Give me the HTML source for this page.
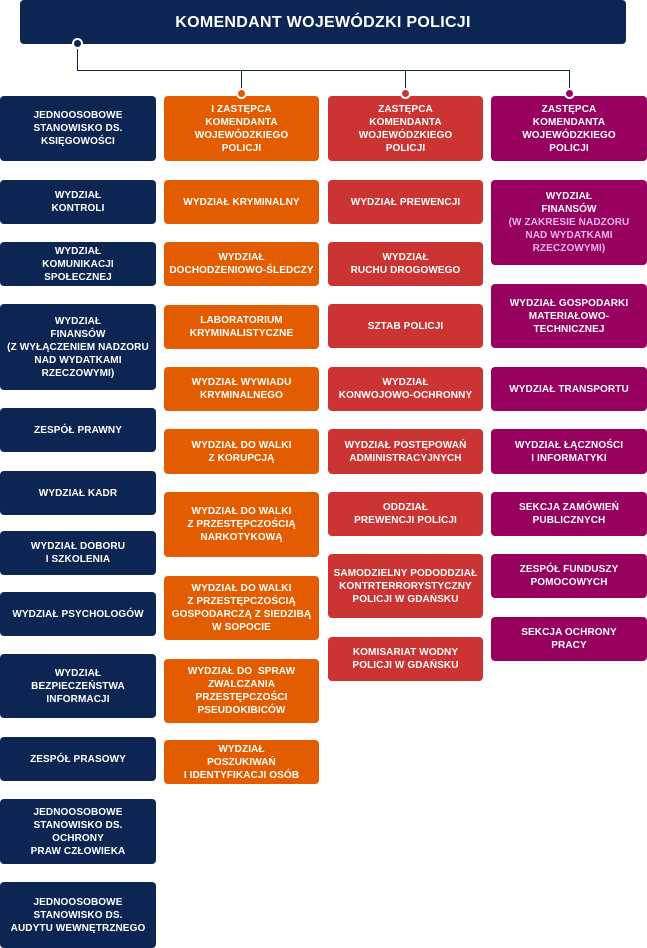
<!DOCTYPE html>
<html><head><meta charset="utf-8"><style>
body{margin:0;width:647px;height:948px;background:#fff;position:relative;overflow:hidden;font-family:"Liberation Sans","DejaVu Sans",sans-serif}
.b{position:absolute;border-radius:4px;color:#fff;font-weight:bold;font-size:10px;line-height:13px;text-align:center;display:flex;align-items:center;justify-content:center;box-sizing:border-box;padding:0 4px;letter-spacing:0.1px}
.n{background:#0d2553}.o{background:#e35d00}.r{background:#cc3333}.p{background:#98005f}
.l{color:#e7b6f0}
.ln{position:absolute;background:#0d2553}
.d{position:absolute;width:11px;height:11px;border-radius:50%;box-sizing:border-box;border:2px solid #fff}
</style></head><body>
<div class="b n" style="left:20px;top:0;width:606px;height:44px;font-size:16px;letter-spacing:0.3px">KOMENDANT WOJEWÓDZKI POLICJI</div>
<div class="ln" style="left:77px;top:44px;width:1px;height:26px"></div>
<div class="ln" style="left:77px;top:70px;width:493px;height:1px"></div>
<div class="ln" style="left:241px;top:70px;width:1px;height:24px"></div>
<div class="ln" style="left:405px;top:70px;width:1px;height:24px"></div>
<div class="ln" style="left:569px;top:70px;width:1px;height:24px"></div>
<div class="d" style="left:72px;top:38px;background:#0d2553"></div>

<div class="b n" style="left:0;top:96px;width:156px;height:65px">JEDNOOSOBOWE<br>STANOWISKO DS.<br>KSIĘGOWOŚCI</div>
<div class="b n" style="left:0;top:180px;width:156px;height:44px">WYDZIAŁ<br>KONTROLI</div>
<div class="b n" style="left:0;top:242px;width:156px;height:44px">WYDZIAŁ<br>KOMUNIKACJI<br>SPOŁECZNEJ</div>
<div class="b n" style="left:0;top:304px;width:156px;height:86px">WYDZIAŁ<br>FINANSÓW<br>(Z WYŁĄCZENIEM NADZORU<br>NAD WYDATKAMI<br>RZECZOWYMI)</div>
<div class="b n" style="left:0;top:408px;width:156px;height:44px">ZESPÓŁ PRAWNY</div>
<div class="b n" style="left:0;top:471px;width:156px;height:44px">WYDZIAŁ KADR</div>
<div class="b n" style="left:0;top:531px;width:156px;height:44px">WYDZIAŁ DOBORU<br>I SZKOLENIA</div>
<div class="b n" style="left:0;top:592px;width:156px;height:44px">WYDZIAŁ PSYCHOLOGÓW</div>
<div class="b n" style="left:0;top:654px;width:156px;height:64px">WYDZIAŁ<br>BEZPIECZEŃSTWA<br>INFORMACJI</div>
<div class="b n" style="left:0;top:737px;width:156px;height:44px">ZESPÓŁ PRASOWY</div>
<div class="b n" style="left:0;top:799px;width:156px;height:65px">JEDNOOSOBOWE<br>STANOWISKO DS.<br>OCHRONY<br>PRAW CZŁOWIEKA</div>
<div class="b n" style="left:0;top:882px;width:156px;height:66px">JEDNOOSOBOWE<br>STANOWISKO DS.<br>AUDYTU WEWNĘTRZNEGO</div>

<div class="b o" style="left:164px;top:96px;width:155px;height:65px">I ZASTĘPCA<br>KOMENDANTA<br>WOJEWÓDZKIEGO<br>POLICJI</div>
<div class="b o" style="left:164px;top:180px;width:155px;height:44px">WYDZIAŁ KRYMINALNY</div>
<div class="b o" style="left:164px;top:242px;width:155px;height:44px">WYDZIAŁ<br>DOCHODZENIOWO-ŚLEDCZY</div>
<div class="b o" style="left:164px;top:305px;width:155px;height:44px">LABORATORIUM<br>KRYMINALISTYCZNE</div>
<div class="b o" style="left:164px;top:367px;width:155px;height:44px">WYDZIAŁ WYWIADU<br>KRYMINALNEGO</div>
<div class="b o" style="left:164px;top:429px;width:155px;height:45px">WYDZIAŁ DO WALKI<br>Z KORUPCJĄ</div>
<div class="b o" style="left:164px;top:492px;width:155px;height:65px">WYDZIAŁ DO WALKI<br>Z PRZESTĘPCZOŚCIĄ<br>NARKOTYKOWĄ</div>
<div class="b o" style="left:164px;top:576px;width:155px;height:64px">WYDZIAŁ DO WALKI<br>Z PRZESTĘPCZOŚCIĄ<br>GOSPODARCZĄ Z SIEDZIBĄ<br>W SOPOCIE</div>
<div class="b o" style="left:164px;top:659px;width:155px;height:64px">WYDZIAŁ DO &nbsp;SPRAW<br>ZWALCZANIA<br>PRZESTĘPCZOŚCI<br>PSEUDOKIBICÓW</div>
<div class="b o" style="left:164px;top:740px;width:155px;height:44px">WYDZIAŁ<br>POSZUKIWAŃ<br>I IDENTYFIKACJI OSÓB</div>

<div class="b r" style="left:328px;top:96px;width:155px;height:65px">ZASTĘPCA<br>KOMENDANTA<br>WOJEWÓDZKIEGO<br>POLICJI</div>
<div class="b r" style="left:328px;top:180px;width:155px;height:44px">WYDZIAŁ PREWENCJI</div>
<div class="b r" style="left:328px;top:242px;width:155px;height:44px">WYDZIAŁ<br>RUCHU DROGOWEGO</div>
<div class="b r" style="left:328px;top:304px;width:155px;height:44px">SZTAB POLICJI</div>
<div class="b r" style="left:328px;top:367px;width:155px;height:44px">WYDZIAŁ<br>KONWOJOWO-OCHRONNY</div>
<div class="b r" style="left:328px;top:429px;width:155px;height:45px">WYDZIAŁ POSTĘPOWAŃ<br>ADMINISTRACYJNYCH</div>
<div class="b r" style="left:328px;top:492px;width:155px;height:44px">ODDZIAŁ<br>PREWENCJI POLICJI</div>
<div class="b r" style="left:328px;top:554px;width:155px;height:64px">SAMODZIELNY PODODDZIAŁ<br>KONTRTERRORYSTYCZNY<br>POLICJI W GDAŃSKU</div>
<div class="b r" style="left:328px;top:637px;width:155px;height:44px">KOMISARIAT WODNY<br>POLICJI W GDAŃSKU</div>

<div class="b p" style="left:491px;top:96px;width:156px;height:65px">ZASTĘPCA<br>KOMENDANTA<br>WOJEWÓDZKIEGO<br>POLICJI</div>
<div class="b p" style="left:491px;top:180px;width:156px;height:85px"><div>WYDZIAŁ<br>FINANSÓW<br><span class="l">(W ZAKRESIE NADZORU<br>NAD WYDATKAMI<br>RZECZOWYMI)</span></div></div>
<div class="b p" style="left:491px;top:284px;width:156px;height:64px">WYDZIAŁ GOSPODARKI<br>MATERIAŁOWO-<br>TECHNICZNEJ</div>
<div class="b p" style="left:491px;top:367px;width:156px;height:44px">WYDZIAŁ TRANSPORTU</div>
<div class="b p" style="left:491px;top:429px;width:156px;height:45px">WYDZIAŁ ŁĄCZNOŚCI<br>I INFORMATYKI</div>
<div class="b p" style="left:491px;top:492px;width:156px;height:44px">SEKCJA ZAMÓWIEŃ<br>PUBLICZNYCH</div>
<div class="b p" style="left:491px;top:554px;width:156px;height:44px">ZESPÓŁ FUNDUSZY<br>POMOCOWYCH</div>
<div class="b p" style="left:491px;top:617px;width:156px;height:44px">SEKCJA OCHRONY<br>PRACY</div>

<div class="d" style="left:236px;top:88px;background:#e35d00"></div>
<div class="d" style="left:400px;top:88px;background:#cc3333"></div>
<div class="d" style="left:564px;top:88px;background:#98005f"></div>
</body></html>
